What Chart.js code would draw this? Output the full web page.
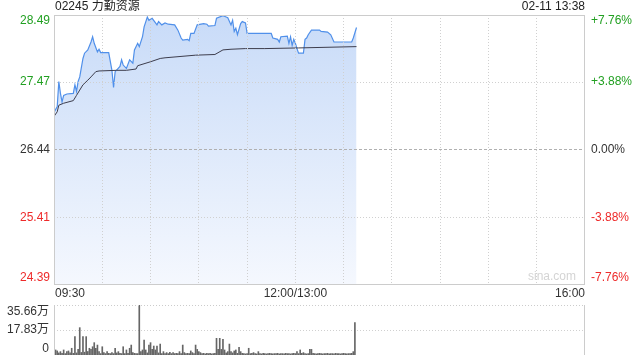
<!DOCTYPE html>
<html>
<head>
<meta charset="utf-8">
<style>
  html, body { margin: 0; padding: 0; background: #fff; }
  #wrap { position: relative; width: 640px; height: 360px; }
  #wrap canvas { position: absolute; left: 0; top: 0; }
</style>
</head>
<body>
<div id="wrap">
  <canvas id="priceChart" width="640" height="360"></canvas>
  <canvas id="volChart" width="640" height="360"></canvas>
</div>
<script src="https://cdn.jsdelivr.net/npm/chart.js"></script>
<script>
  const stockTitle = '02245 力勤资源';
  const stampText = '02-11 13:38';
  const prevClose = 26.44;

  // price axis (left) and percent axis (right)
  const priceTicks = [24.39, 25.41, 26.44, 27.47, 28.49];
  const pctLabels = ['-7.76%', '-3.88%', '0.00%', '+3.88%', '+7.76%'];

  // minutes after 09:30, lunch break removed (0..330)
  const sessionMinutes = 330;
  const timeTicks = [0, 150, 330];
  const timeLabels = ['09:30', '12:00/13:00', '16:00'];

  const priceMinutes = [0, 2, 3, 4, 5, 6, 8, 12, 13, 14, 15, 16, 18, 19, 21, 23, 24, 25, 27, 28,
    29, 34, 36, 37, 38, 41, 42, 43, 45, 47, 49, 50, 52, 53, 55, 56, 58, 59, 61, 64,
    65, 67, 69, 71, 75, 77, 79, 80, 83, 84, 85, 87, 89, 93, 95, 96, 100, 101, 105, 107,
    108, 110, 111, 112, 113, 114, 116, 117, 119, 120, 135, 136, 139, 140, 141, 145, 146, 147, 148, 149,
    150, 151, 152, 155, 156, 157, 158, 160, 165, 166, 170, 172, 174, 185, 186, 188];
  const priceValues = [27.01, 27.10, 27.48, 27.30, 27.17, 27.27, 27.29, 27.30, 27.43, 27.33, 27.48, 27.55, 27.83, 27.91, 27.96, 28.08, 28.16, 28.06, 27.93, 27.97,
    27.92, 27.92, 27.65, 27.39, 27.63, 27.71, 27.81, 27.73, 27.68, 27.81, 27.76, 27.96, 28.06, 28.01, 28.16, 28.31, 28.46, 28.41, 28.44, 28.34,
    28.39, 28.34, 28.37, 28.35, 28.34, 28.26, 28.14, 28.11, 28.12, 28.10, 28.21, 28.21, 28.34, 28.36, 28.35, 28.32, 28.33, 28.44, 28.48, 28.46,
    28.45, 28.34, 28.41, 28.24, 28.29, 28.19, 28.36, 28.39, 28.37, 28.21, 28.21, 28.14, 28.12, 28.08, 28.16, 28.17, 28.06, 28.16, 28.03, 28.12,
    28.06, 27.98, 27.91, 27.91, 28.12, 28.14, 28.19, 28.26, 28.26, 28.24, 28.23, 28.19, 28.08, 28.08, 28.14, 28.30];

  const avgMinutes = [0, 2, 3, 6, 12, 14, 16, 18, 21, 23, 26, 28, 39, 45, 51, 52, 60, 66, 69, 88, 100, 105, 110, 119, 131, 152, 188];
  const avgValues = [26.95, 27.02, 27.12, 27.15, 27.19, 27.27, 27.35, 27.43, 27.50, 27.55, 27.63, 27.64, 27.65, 27.65, 27.67, 27.72, 27.78, 27.83, 27.84, 27.88, 27.89, 27.96, 27.97, 27.98, 27.98, 27.99, 28.01];

  // volume per minute, in 万 shares (index = minute)
  const volValues = [7.1, 3.6, 2.9, 1.5, 2.4, 1.2, 3.6, 1.0, 2.4, 2.9, 1.5, 4.8, 1.2, 13.1, 1.5, 4.0, 19.5, 1.8, 13.1, 2.0,
    13.1, 2.5, 4.8, 4.0, 5.9, 8.8, 4.8, 7.1, 2.4, 1.0, 5.9, 1.7, 1.0, 2.4, 1.2, 1.0, 1.7, 1.0, 4.8, 1.5,
    2.4, 1.2, 1.0, 5.9, 1.0, 3.6, 1.2, 4.8, 7.1, 1.7, 1.2, 1.0, 1.0, 35.66, 2.4, 3.6, 10.7, 3.6, 1.5, 7.1,
    8.8, 4.0, 6.4, 3.6, 6.4, 1.5, 7.8, 1.0, 2.4, 1.0, 1.7, 1.0, 1.9, 1.0, 1.7, 1.0, 1.2, 1.0, 2.4, 1.0,
    7.1, 1.7, 1.0, 1.2, 1.0, 2.9, 1.7, 1.0, 7.1, 4.0, 2.4, 1.7, 1.0, 1.2, 0.8, 1.2, 1.0, 1.2, 0.8, 1.0,
    1.2, 11.9, 4.0, 11.9, 4.0, 11.2, 3.6, 1.5, 2.4, 7.8, 2.4, 1.5, 2.9, 3.6, 1.2, 5.5, 2.4, 1.2, 1.0, 0.8,
    1.0, 4.8, 1.0, 1.2, 1.7, 1.0, 0.8, 2.4, 1.0, 0.8, 1.2, 1.0, 0.8, 1.0, 1.2, 1.0, 0.8, 1.0, 1.0, 1.2,
    0.8, 1.0, 1.0, 0.8, 1.2, 1.0, 1.0, 0.8, 1.0, 1.2, 1.0, 2.4, 1.0, 3.6, 1.2, 1.7, 1.0, 0.8, 1.0, 4.0,
    4.0, 1.2, 1.0, 0.8, 1.0, 1.2, 1.0, 0.8, 1.0, 1.0, 1.2, 0.8, 1.0, 1.0, 0.8, 1.2, 1.0, 1.0, 0.8, 1.0,
    1.2, 1.0, 0.8, 1.0, 1.0, 1.2, 2.4, 23.06];
  const volTicks = [0, 17.83, 35.66];
  const volLabels = ['0', '17.83万', '35.66万'];

  const FONT = '12px Arial, "Liberation Sans", "Noto Sans CJK SC", sans-serif';
  const GREEN = '#22a022';
  const RED = '#ee2a2a';
  const DARK = '#333';
  const LINE = '#cccccc';

  Chart.defaults.font.family = 'Arial, "Liberation Sans", "Noto Sans CJK SC", sans-serif';
  Chart.defaults.font.size = 12;

  function colorFor(v) {
    if (Math.abs(v - prevClose) < 0.005) return DARK;
    return v > prevClose ? GREEN : RED;
  }

  const gridMinutes = [];
  for (let m = 30; m < sessionMinutes; m += 30) gridMinutes.push(m);

  const priceDecor = {
    id: 'priceDecor',
    afterDraw(chart) {
      const { ctx, chartArea: a, scales } = chart;
      const ys = scales.y, xs = scales.x;
      ctx.save();
      ctx.font = FONT;
      ctx.textBaseline = 'middle';

      // watermark
      ctx.fillStyle = '#d4d4d4';
      ctx.textAlign = 'right';
      ctx.fillText('sina.com', a.right - 9, a.bottom - 8);

      // frame
      ctx.strokeStyle = LINE;
      ctx.lineWidth = 1;
      ctx.strokeRect(a.left + 0.5, a.top + 0.5, a.right - a.left - 1, a.bottom - a.top - 1);

      // left price labels and right percent labels
      priceTicks.forEach((v, i) => {
        let y = ys.getPixelForValue(v);
        if (i === priceTicks.length - 1) y += 6;
        if (i === 0) y -= 7;
        ctx.fillStyle = colorFor(v);
        ctx.textAlign = 'right';
        ctx.fillText(v.toFixed(2), a.left - 4, y);
        ctx.textAlign = 'left';
        ctx.fillText(pctLabels[i], a.right + 6, y);
      });

      // time labels
      ctx.fillStyle = DARK;
      timeTicks.forEach((m, i) => {
        const x = xs.getPixelForValue(m);
        ctx.textAlign = i === 0 ? 'left' : (i === timeTicks.length - 1 ? 'right' : 'center');
        ctx.fillText(timeLabels[i], x + (i === 0 ? 1 : 0), a.bottom + 9);
      });

      // header
      ctx.textAlign = 'left';
      ctx.fillStyle = '#222';
      ctx.fillText(stockTitle, a.left + 1, 7);
      ctx.textAlign = 'right';
      ctx.fillText(stampText, a.right, 7);
      ctx.restore();
    }
  };

  new Chart(document.getElementById('priceChart'), {
    type: 'line',
    data: {
      datasets: [
        {
          label: '均价',
          data: avgMinutes.map((m, i) => ({ x: m, y: avgValues[i] })),
          borderColor: '#3d3d4d',
          borderWidth: 1,
          pointRadius: 0,
          fill: false,
          tension: 0
        },
        {
          label: '价格',
          data: priceMinutes.map((m, i) => ({ x: m, y: priceValues[i] })),
          borderColor: '#5090ea',
          borderWidth: 1.2,
          pointRadius: 0,
          tension: 0,
          fill: 'start',
          backgroundColor: (c) => {
            const area = c.chart.chartArea;
            if (!area) return 'rgba(200,220,248,0.6)';
            const g = c.chart.ctx.createLinearGradient(0, area.top, 0, area.bottom);
            g.addColorStop(0, '#c8dbf8');
            g.addColorStop(1, '#f5f8fe');
            return g;
          }
        }
      ]
    },
    options: {
      responsive: false,
      animation: false,
      events: [],
      layout: { padding: { left: 54, right: 55, top: 15, bottom: 75 } },
      plugins: { legend: { display: false }, tooltip: { enabled: false } },
      scales: {
        x: {
          type: 'linear',
          min: 0,
          max: sessionMinutes,
          afterBuildTicks: (s) => { s.ticks = gridMinutes.map(v => ({ value: v })); },
          afterFit: (s) => { s.height = 0; },
          ticks: { display: false },
          grid: { color: '#d0d0d0', drawTicks: false, z: 1 },
          border: { display: false, dash: [1, 2] }
        },
        y: {
          min: priceTicks[0],
          max: priceTicks[priceTicks.length - 1],
          afterBuildTicks: (s) => { s.ticks = priceTicks.slice(1, -1).map(v => ({ value: v })); },
          afterFit: (s) => { s.width = 0; },
          ticks: { display: false },
          grid: {
            drawTicks: false,
            z: 1,
            color: (c) => (c.tick && Math.abs(c.tick.value - prevClose) < 0.005) ? '#b0b0b0' : '#d0d0d0'
          },
          border: {
            display: false,
            dash: (c) => (c.tick && Math.abs(c.tick.value - prevClose) < 0.005) ? [3, 2] : [1, 2]
          }
        }
      }
    },
    plugins: [priceDecor]
  });

  const volDecor = {
    id: 'volDecor',
    afterDraw(chart) {
      const { ctx, chartArea: a, scales } = chart;
      const ys = scales.y;
      ctx.save();
      ctx.strokeStyle = LINE;
      ctx.lineWidth = 1;
      // top dotted edge
      ctx.setLineDash([1, 2]);
      ctx.beginPath();
      ctx.moveTo(a.left, a.top + 0.5);
      ctx.lineTo(a.right, a.top + 0.5);
      ctx.stroke();
      ctx.setLineDash([]);
      // side edges
      ctx.beginPath();
      ctx.moveTo(a.left + 0.5, a.top);
      ctx.lineTo(a.left + 0.5, a.bottom);
      ctx.moveTo(a.right - 0.5, a.top);
      ctx.lineTo(a.right - 0.5, a.bottom);
      ctx.stroke();

      ctx.font = FONT;
      ctx.textBaseline = 'middle';
      ctx.textAlign = 'right';
      ctx.fillStyle = DARK;
      volTicks.forEach((v, i) => {
        let y = ys.getPixelForValue(v);
        if (i === volTicks.length - 1) y += 7;
        if (i === 0) y -= 6;
        ctx.fillText(volLabels[i], a.left - 5, y);
      });
      ctx.restore();
    }
  };

  new Chart(document.getElementById('volChart'), {
    type: 'bar',
    data: {
      datasets: [{
        label: '成交量',
        data: volValues.map((v, i) => ({ x: i, y: v })),
        backgroundColor: '#666',
        barThickness: 1,
        borderWidth: 0
      }]
    },
    options: {
      responsive: false,
      animation: false,
      events: [],
      layout: { padding: { left: 54, right: 55, top: 305, bottom: 5 } },
      plugins: { legend: { display: false }, tooltip: { enabled: false } },
      scales: {
        x: {
          type: 'linear',
          min: 0,
          max: sessionMinutes,
          offset: false,
          display: false
        },
        y: {
          min: 0,
          max: volTicks[volTicks.length - 1],
          afterBuildTicks: (s) => { s.ticks = [{ value: volTicks[1] }]; },
          afterFit: (s) => { s.width = 0; },
          ticks: { display: false },
          grid: { color: '#d0d0d0', drawTicks: false },
          border: { display: false, dash: [1, 2] }
        }
      }
    },
    plugins: [volDecor]
  });
</script>
</body>
</html>
